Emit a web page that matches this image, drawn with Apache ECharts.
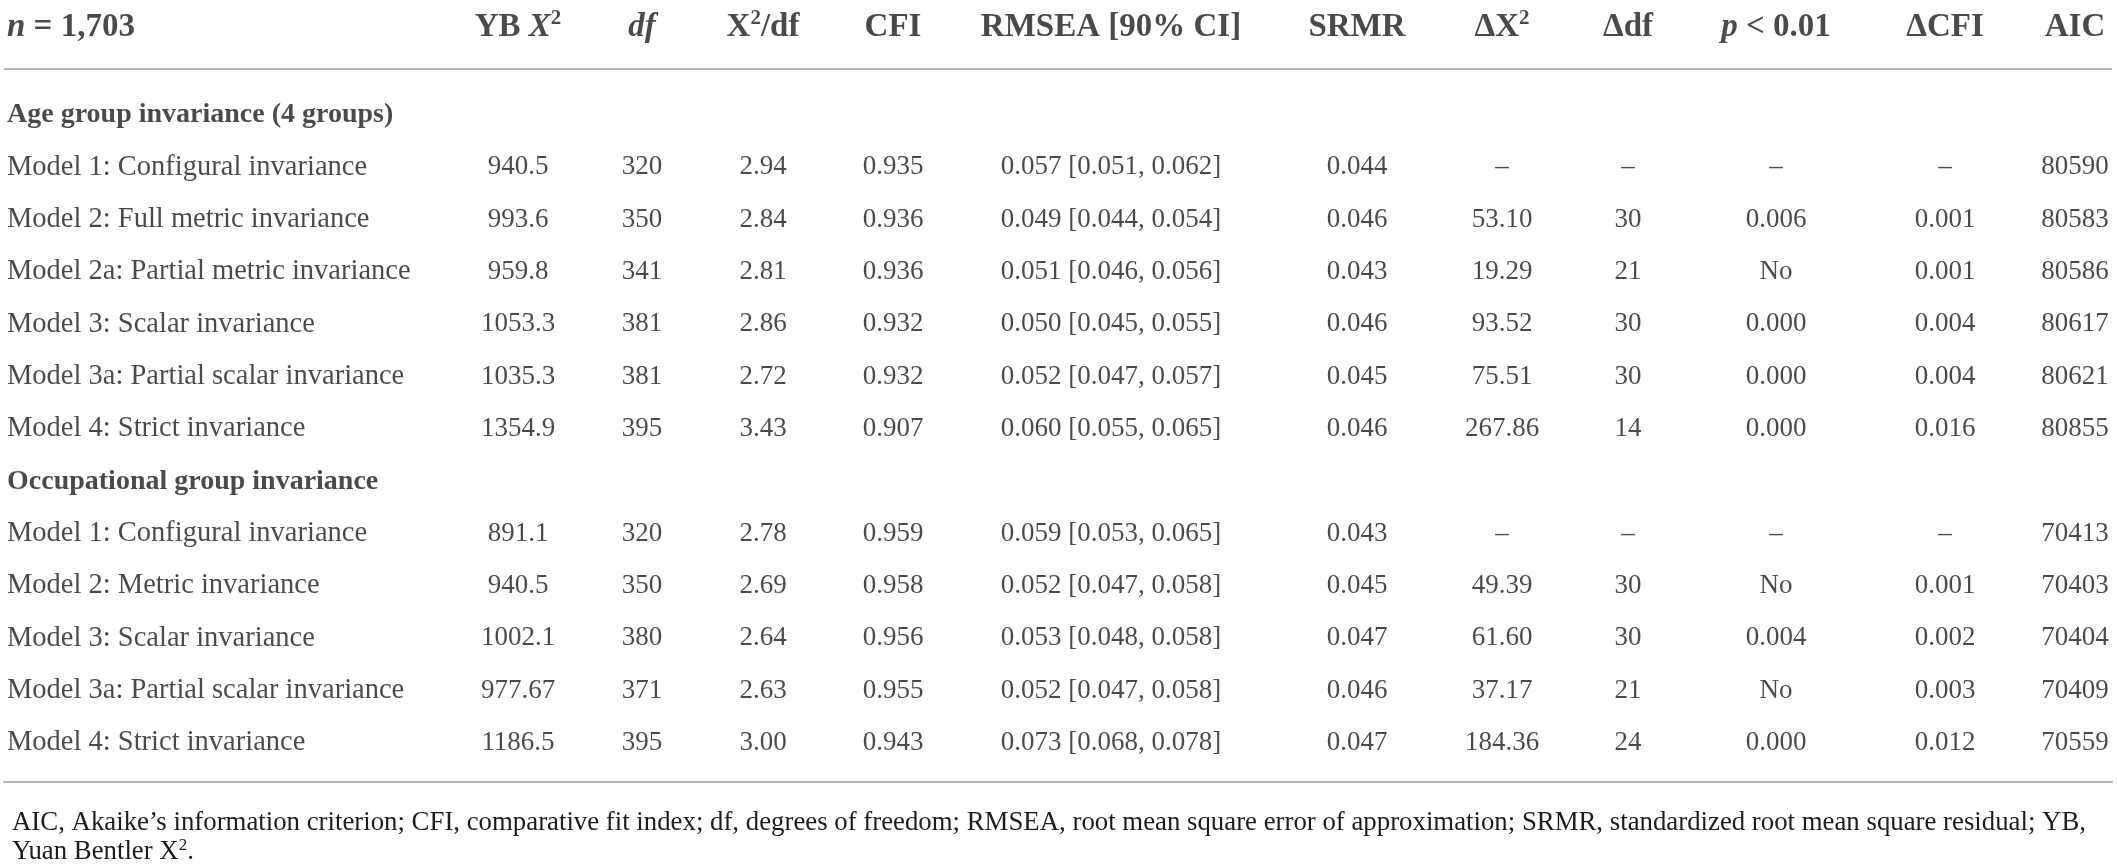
<!DOCTYPE html>
<html>
<head>
<meta charset="utf-8">
<script src="https://cdn.jsdelivr.net/npm/echarts@6/dist/echarts.min.js"></script>
<style>
html,body{margin:0;padding:0;background:#fff}
#chart{width:2117px;height:868px}
</style>
</head>
<body>
<div id="chart"></div>
<script>
// table text, one array per column
const headers=['{bi|n}{b| = 1,703}','{b|YB }{bi|X}{sup|2}','{bi|df}','{b|X}{sup|2}{b|/df}','{b|CFI}','{b|RMSEA [90% CI]}','{b|SRMR}','{b|ΔX}{sup|2}','{b|Δdf}','{bi|p}{b| < 0.01}','{b|ΔCFI}','{b|AIC}'];
const rowLabels=['Age group invariance (4 groups)','Model 1: Configural invariance','Model 2: Full metric invariance','Model 2a: Partial metric invariance','Model 3: Scalar invariance','Model 3a: Partial scalar invariance','Model 4: Strict invariance','Occupational group invariance','Model 1: Configural invariance','Model 2: Metric invariance','Model 3: Scalar invariance','Model 3a: Partial scalar invariance','Model 4: Strict invariance'];
const sectionRows=[0,7];
const ybChi=['','940.5','993.6','959.8','1053.3','1035.3','1354.9','','891.1','940.5','1002.1','977.67','1186.5'];
const dfVals=['','320','350','341','381','381','395','','320','350','380','371','395'];
const chiDf=['','2.94','2.84','2.81','2.86','2.72','3.43','','2.78','2.69','2.64','2.63','3.00'];
const cfi=['','0.935','0.936','0.936','0.932','0.932','0.907','','0.959','0.958','0.956','0.955','0.943'];
const rmsea=['','0.057 [0.051, 0.062]','0.049 [0.044, 0.054]','0.051 [0.046, 0.056]','0.050 [0.045, 0.055]','0.052 [0.047, 0.057]','0.060 [0.055, 0.065]','','0.059 [0.053, 0.065]','0.052 [0.047, 0.058]','0.053 [0.048, 0.058]','0.052 [0.047, 0.058]','0.073 [0.068, 0.078]'];
const srmr=['','0.044','0.046','0.043','0.046','0.045','0.046','','0.043','0.045','0.047','0.046','0.047'];
const dChi=['','–','53.10','19.29','93.52','75.51','267.86','','–','49.39','61.60','37.17','184.36'];
const dDf=['','–','30','21','30','30','14','','–','30','30','21','24'];
const pVal=['','–','0.006','No','0.000','0.000','0.000','','–','No','0.004','No','0.000'];
const dCfi=['','–','0.001','0.001','0.004','0.004','0.016','','–','0.001','0.002','0.003','0.012'];
const aic=['','80590','80583','80586','80617','80621','80855','','70413','70403','70404','70409','70559'];
const footnote='AIC, Akaike\u2019s information criterion; CFI, comparative fit index; df, degrees of freedom; RMSEA, root mean square error of approximation; SRMR, standardized root mean square residual; YB,\nYuan Bentler X{sup|2}.';

// layout
const FONT='Liberation Serif',INK='#1f1c1d';
const colX=[7,518,642,763,893,1111,1357,1502,1628,1776,1945,2075];
const HEAD_Y=-1.68,RULE_Y=-0.879,Y_MIN=-2.198,Y_MAX=12.746;
const columns=[rowLabels,ybChi,dfVals,chiDf,cfi,rmsea,srmr,dChi,dDf,pVal,dCfi,aic];

const headRich={
 b:{fontFamily:FONT,fontSize:33,fontWeight:'bold',color:INK,lineHeight:38},
 bi:{fontFamily:FONT,fontSize:33,fontWeight:'bold',fontStyle:'italic',color:INK,lineHeight:38},
 sup:{fontFamily:FONT,fontSize:21,fontWeight:'bold',color:INK,verticalAlign:'top',lineHeight:38}
};

const series=columns.map((vals,c)=>({
 type:'scatter',symbolSize:1,silent:true,
 itemStyle:{color:'rgba(0,0,0,0)'},
 data:vals.map((v,i)=>{
  let d={value:[colX[c],i,v]};
  if(c===0&&sectionRows.indexOf(i)>=0) d.label={fontWeight:'bold',fontSize:28};
  return d;
 }).filter(d=>d.value[2]!==''),
 label:{show:true,position:'inside',align:c===0?'left':'center',verticalAlign:'middle',
  formatter:p=>p.value[2],fontFamily:FONT,fontSize:c===0?28.5:27,color:INK}
}));

series.push({
 type:'scatter',symbolSize:1,silent:true,
 itemStyle:{color:'rgba(0,0,0,0)'},
 data:headers.map((h,c)=>({value:[colX[c],HEAD_Y,h],label:{align:c===0?'left':'center'}})),
 label:{show:true,position:'inside',verticalAlign:'middle',formatter:p=>p.value[2],rich:headRich},
 markLine:{silent:true,symbol:'none',label:{show:false},animation:false,
  lineStyle:{color:'#9c9c9c',width:1.5,type:'solid'},
  data:[{yAxis:RULE_Y}]}
});

var c=echarts.init(document.getElementById('chart'));
c.setOption({
 animation:false,
 backgroundColor:'#fff',
 title:{left:7,top:803,text:footnote,
  textStyle:{fontFamily:FONT,fontSize:26.8,fontWeight:'normal',color:INK,lineHeight:29,
   rich:{sup:{fontFamily:FONT,fontSize:17,color:INK,verticalAlign:'top',lineHeight:29}}}},
 grid:{left:4,right:5,top:0,bottom:86},
 xAxis:{type:'value',min:4,max:2112,
  axisLine:{show:true,onZero:false,lineStyle:{color:'#b4b4b4',width:2}},
  axisTick:{show:false},axisLabel:{show:false},splitLine:{show:false}},
 yAxis:{type:'value',inverse:true,min:Y_MIN,max:Y_MAX,show:false,splitLine:{show:false}},
 series:series
});
</script>
</body>
</html>
